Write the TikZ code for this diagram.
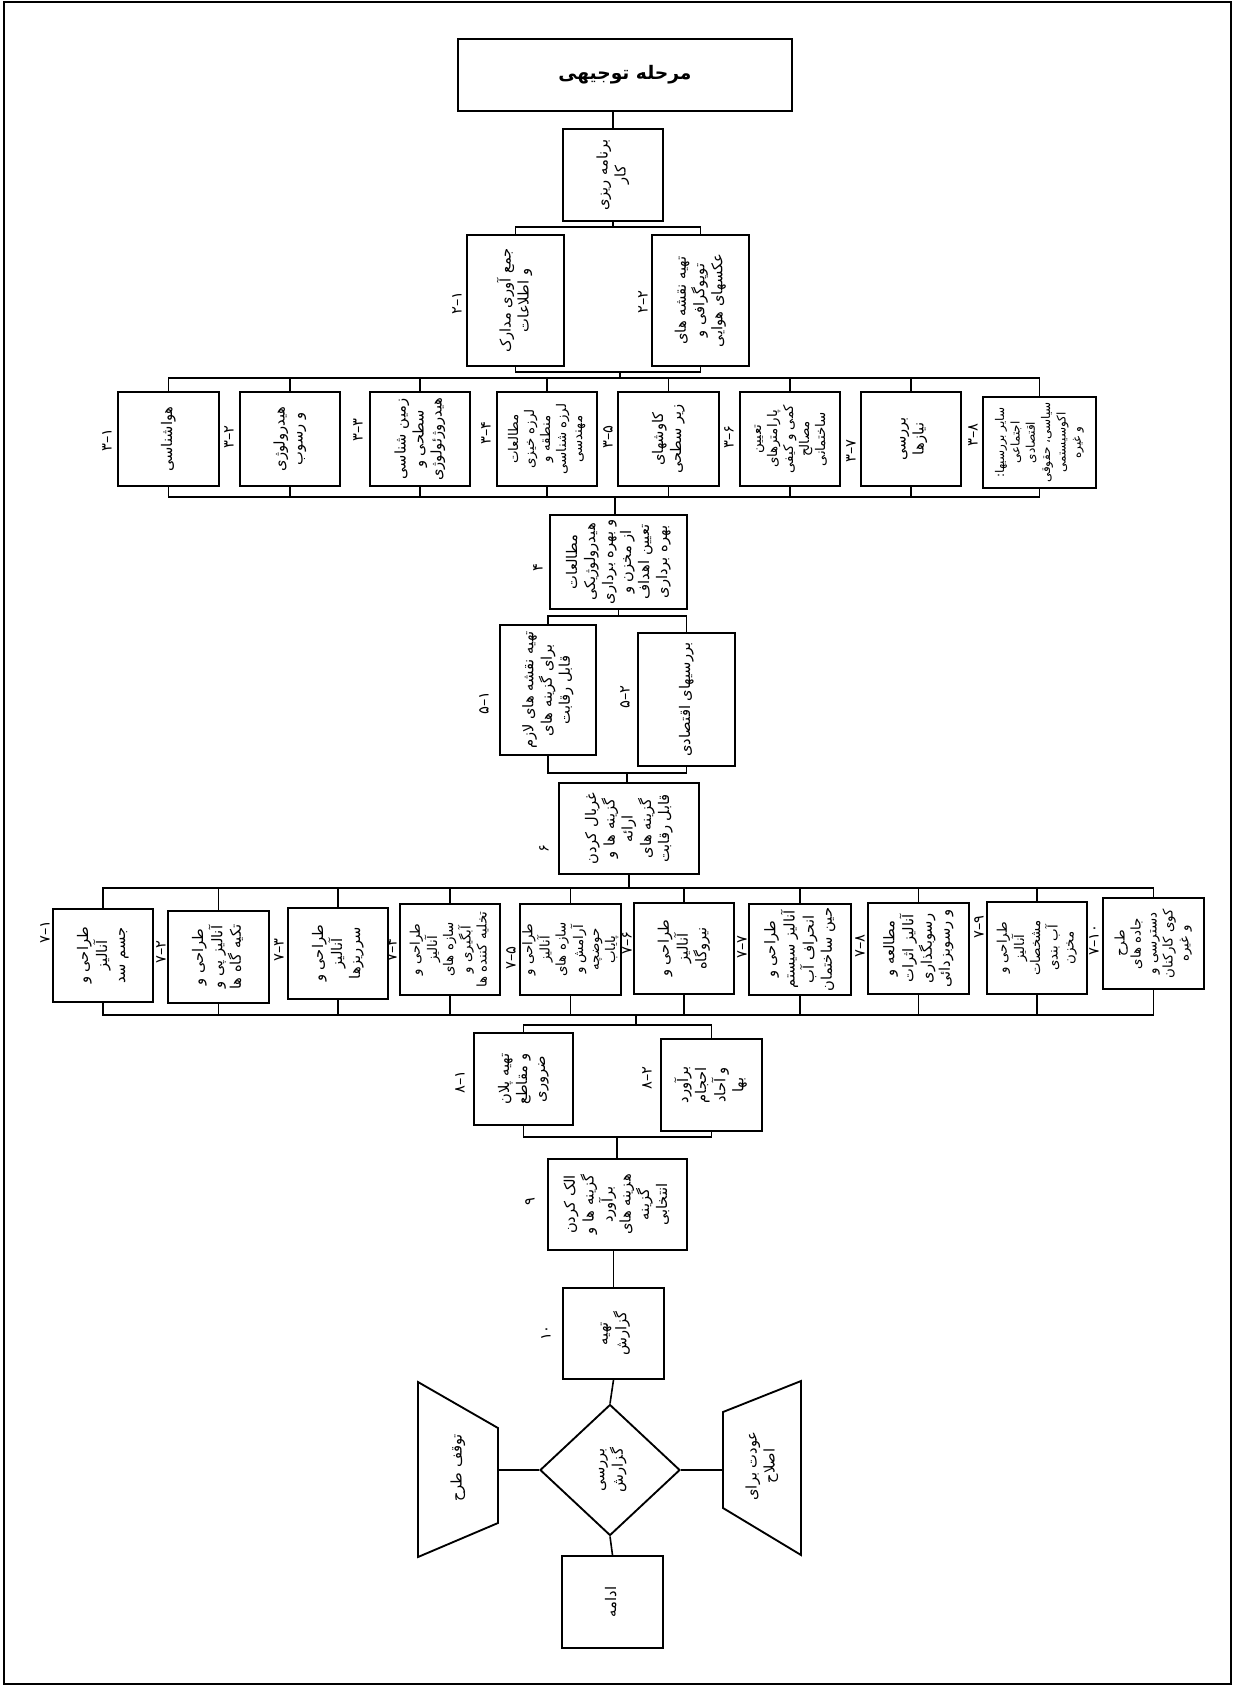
\documentclass[tikz,border=0pt]{standalone}
\usepackage{graphicx}
\usepackage{fontspec}
\newfontfamily\persianfont[Script=Arabic]{DejaVu Sans}
\TeXXeTstate=1
\usetikzlibrary{shapes.geometric}

\newcommand{\vtext}[1]{\rotatebox{90}{\begin{tabular}{@{}c@{}}#1\end{tabular}}}
\newcommand{\vnum}[1]{\rotatebox{90}{#1}}

\tikzset{
  box/.style={draw, line width=1.4pt, inner sep=0pt, font=\persianfont\fontsize{11}{13.5}\selectfont},
  small/.style={font=\persianfont\fontsize{10}{12}\selectfont},
  tiny/.style={font=\persianfont\fontsize{9}{11.5}\selectfont},
  txt/.style={inner sep=0pt, font=\persianfont\fontsize{11}{13.5}\selectfont},
  sz/.style 2 args={minimum width=#1*0.75pt, minimum height=#2*0.75pt},
  num/.style={inner sep=0pt, font=\persianfont\fontsize{11}{13}\selectfont},
  conn/.style={line width=1.2pt},
}

\begin{document}
\begin{tikzpicture}[x=0.75pt,y=0.75pt,yscale=-1,xscale=1]
\useasboundingbox (0,0) rectangle (1234,1686);
%Shape: Frame
\draw [line width=1.5pt] (4,2) rectangle (1231,1684);

%Shape: Rectangle (title)
\node [box, sz={334}{72}, font=\persianfont\bfseries\fontsize{14}{16}\selectfont] (mrhl) at (625,75) {\beginR مرحله توجیهی\endR};
%Shape: Rectangle (1)
\node [box, sz={100}{92}] (b1) at (613,175) {\vtext{\beginR برنامه ریزی\endR\\\beginR کار\endR}};

%Shape: Rectangle (2)
\node [box, sz={97}{131}] (b21) at (515.5,300.5) {\vtext{\beginR جمع آوری مدارک\endR\\\beginR و اطلاعات\endR}};
\node [box, sz={97}{131}] (b22) at (700.5,300.5) {\vtext{\beginR تهیه نقشه های\endR\\\beginR توپوگرافی و\endR\\\beginR عکسهای هوایی\endR}};
% Text Node
\node [num] (n21) at (457,303) {\vnum{۱–۲}};
\node [num] (n22) at (643,302) {\vnum{۲–۲}};

%Shape: Rectangle (3)
\node [box, sz={101}{94}] (b31) at (168.5,439) {\vtext{\beginR هواشناسی\endR}};
\node [box, sz={100}{94}] (b32) at (290,439) {\vtext{\beginR هیدرولوژی\endR\\\beginR و رسوب\endR}};
\node [box, sz={100}{94}] (b33) at (420,439) {\vtext{\beginR زمین شناسی\endR\\\beginR سطحی و\endR\\\beginR هیدروژئولوژی\endR}};
\node [box, small, sz={100}{94}] (b34) at (547,439) {\vtext{\beginR مطالعات\endR\\\beginR لرزه خیزی\endR\\\beginR منطقه و\endR\\\beginR لرزه شناسی\endR\\\beginR مهندسی\endR}};
\node [box, sz={101}{94}] (b35) at (668.5,439) {\vtext{\beginR کاوشهای\endR\\\beginR زیر سطحی\endR}};
\node [box, small, sz={100}{94}] (b36) at (790,439) {\vtext{\beginR تعیین\endR\\\beginR پارامترهای\endR\\\beginR کمی و کیفی\endR\\\beginR مصالح\endR\\\beginR ساختمانی\endR}};
\node [box, sz={100}{94}] (b37) at (911,439) {\vtext{\beginR بررسی\endR\\\beginR نیازها\endR}};
\node [box, tiny, sz={113}{91}] (b38) at (1039.5,442.5) {\vtext{\beginR سایر بررسیها:\endR\\\beginR اجتماعی\endR\\\beginR اقتصادی\endR\\\beginR سیاسی، حقوقی\endR\\\beginR اکوسیستمی\endR\\\beginR و غیره\endR}};
% Text Node
\node [num] (n31) at (107,440) {\vnum{۱–۳}};
\node [num] (n32) at (229,437) {\vnum{۲–۳}};
\node [num] (n33) at (358,430) {\vnum{۳–۳}};
\node [num] (n34) at (486,433) {\vnum{۴–۳}};
\node [num] (n35) at (608,437) {\vnum{۵–۳}};
\node [num] (n36) at (729,437) {\vnum{۶–۳}};
\node [num] (n37) at (851,451) {\vnum{۷–۳}};
\node [num] (n38) at (973,435) {\vnum{۸–۳}};

%Shape: Rectangle (4)
\node [box, sz={137}{94}] (b4) at (618.5,562) {\vtext{\beginR مطالعات\endR\\\beginR هیدرولوژیکی\endR\\\beginR و بهره برداری\endR\\\beginR از مخزن و\endR\\\beginR تعیین اهداف\endR\\\beginR بهره برداری\endR}};
\node [num] (n4) at (538,568) {\vnum{۴}};

%Shape: Rectangle (5)
\node [box, sz={96}{130}] (b51) at (548,690) {\vtext{\beginR تهیه نقشه های لازم\endR\\\beginR برای گزینه های\endR\\\beginR قابل رقابت\endR}};
\node [box, sz={97}{133}] (b52) at (686.5,699.5) {\vtext{\beginR بررسیهای اقتصادی\endR}};
\node [num] (n51) at (484,703) {\vnum{۱–۵}};
\node [num] (n52) at (625,697) {\vnum{۲–۵}};

%Shape: Rectangle (6)
\node [box, sz={140}{91}] (b6) at (629,828.5) {\vtext{\beginR غربال کردن\endR\\\beginR گزینه ها و\endR\\\beginR ارائه\endR\\\beginR گزینه های\endR\\\beginR قابل رقابت\endR}};
\node [num] (n6) at (544,849) {\vnum{۶}};

%Shape: Rectangle (7)
\node [box, sz={100}{93}] (b71) at (103,955.5) {\vtext{\beginR طراحی و\endR\\\beginR آنالیز\endR\\\beginR جسم سد\endR}};
\node [box, sz={101}{92}] (b72) at (218.5,957) {\vtext{\beginR طراحی و\endR\\\beginR آنالیز پی و\endR\\\beginR تکیه گاه ها\endR}};
\node [box, sz={100}{91}] (b73) at (338,953.5) {\vtext{\beginR طراحی و\endR\\\beginR آنالیز\endR\\\beginR سرریزها\endR}};
\node [box, small, sz={100}{91}] (b74) at (450,949.5) {\vtext{\beginR طراحی و\endR\\\beginR آنالیز\endR\\\beginR سازه های\endR\\\beginR آبگیری و\endR\\\beginR تخلیه کننده ها\endR}};
\node [box, small, sz={101}{91}] (b75) at (570.5,949.5) {\vtext{\beginR طراحی و\endR\\\beginR آنالیز\endR\\\beginR سازه های\endR\\\beginR آرامش و\endR\\\beginR حوضچه\endR\\\beginR پایاب\endR}};
\node [box, sz={100}{91}] (b76) at (684,948.5) {\vtext{\beginR طراحی و\endR\\\beginR آنالیز\endR\\\beginR نیروگاه\endR}};
\node [box, sz={102}{91}] (b77) at (800,949.5) {\vtext{\beginR طراحی و\endR\\\beginR آنالیز سیستم\endR\\\beginR انحراف آب\endR\\\beginR حین ساختمان\endR}};
\node [box, sz={101}{91}] (b78) at (918.5,948.5) {\vtext{\beginR مطالعه و\endR\\\beginR آنالیز اثرات\endR\\\beginR رسوبگذاری\endR\\\beginR و رسوبزدائی\endR}};
\node [box, small, sz={100}{92}] (b79) at (1037,948) {\vtext{\beginR طراحی و\endR\\\beginR آنالیز\endR\\\beginR مشخصات\endR\\\beginR آب بندی\endR\\\beginR مخزن\endR}};
\node [box, small, sz={101}{91}] (b710) at (1153.5,943.5) {\vtext{\beginR طرح\endR\\\beginR جاده های\endR\\\beginR دسترسی و\endR\\\beginR کوی کارکنان\endR\\\beginR و غیره\endR}};
% Text Node
\node [num] (n71) at (45,932) {\vnum{۱–۷}};
\node [num] (n72) at (161,952) {\vnum{۲–۷}};
\node [num] (n73) at (279,950) {\vnum{۳–۷}};
\node [num] (n74) at (392,950) {\vnum{۴–۷}};
\node [num] (n75) at (511,958) {\vnum{۵–۷}};
\node [num] (n76) at (627,943) {\vnum{۶–۷}};
\node [num] (n77) at (742,947) {\vnum{۷–۷}};
\node [num] (n78) at (860,946) {\vnum{۸–۷}};
\node [num] (n79) at (979,927) {\vnum{۹–۷}};
\node [num] (n710) at (1094,940) {\vnum{۱۰–۷}};

%Shape: Rectangle (8)
\node [box, sz={99}{92}] (b81) at (523.5,1079) {\vtext{\beginR تهیه پلان\endR\\\beginR و مقاطع\endR\\\beginR ضروری\endR}};
\node [box, sz={101}{92}] (b82) at (711.5,1085) {\vtext{\beginR برآورد\endR\\\beginR احجام\endR\\\beginR و آحاد\endR\\\beginR بها\endR}};
\node [num] (n81) at (460,1082) {\vnum{۱–۸}};
\node [num] (n82) at (647,1078) {\vnum{۲–۸}};

%Shape: Rectangle (9, 10)
\node [box, sz={139}{91}] (b9) at (617.5,1204.5) {\vtext{\beginR الک کردن\endR\\\beginR گزینه ها و\endR\\\beginR برآورد\endR\\\beginR هزینه های\endR\\\beginR گزینه\endR\\\beginR انتخابی\endR}};
\node [num] (n9) at (530,1202) {\vnum{۹}};
\node [box, sz={101}{91}] (b10) at (613.5,1333.5) {\vtext{\beginR تهیه\endR\\\beginR گزارش\endR}};
\node [num] (n10) at (546,1333) {\vnum{۱۰}};

%Shape: Diamond
\node [box, diamond, sz={140}{131}] (rev) at (610,1470) {\vtext{\beginR بررسی\endR\\\beginR گزارش\endR}};
%Shape: Trapezoid (stop)
\coordinate (st1) at (418,1382);
\coordinate (st2) at (498,1428);
\coordinate (st3) at (498,1523);
\coordinate (st4) at (418,1557);
\draw [line width=1.4pt] (st1) -- (st2) -- (st3) -- (st4) -- cycle;
\node [txt] (stopt) at (458,1468) {\vtext{\beginR توقف طرح\endR}};
%Shape: Trapezoid (back)
\coordinate (bk1) at (723,1412);
\coordinate (bk2) at (801,1381);
\coordinate (bk3) at (801,1555);
\coordinate (bk4) at (723,1508);
\draw [line width=1.4pt] (bk1) -- (bk2) -- (bk3) -- (bk4) -- cycle;
\node [txt] (backt) at (762,1466) {\vtext{\beginR عودت برای\endR\\\beginR اصلاح\endR}};
%Shape: Rectangle (continue)
\node [box, sz={101}{92}] (cont) at (612.5,1602) {\vtext{\beginR ادامه\endR}};

%Straight Lines
\draw [conn] (b1.north |- mrhl.south) -- (b1.north);
\coordinate (bus2t) at (613,227);
\draw [conn] (b1.south) -- (bus2t);
\draw [conn] (b21.north) -- (b21.north |- bus2t) -- (b22.north |- bus2t) -- (b22.north);
\coordinate (bus2b) at (620,372);
\coordinate (bus3t) at (620,378);
\draw [conn] (b21.south) -- (b21.south |- bus2b) -- (b22.south |- bus2b) -- (b22.south);
\draw [conn] (bus2b) -- (bus3t);
\draw [conn] (b31.north) -- (b31.north |- bus3t) -- (b38.north |- bus3t) -- (b38.north);
\foreach \n in {b32,b33,b34,b35,b36,b37}
  \draw [conn] (\n.north) -- (\n.north |- bus3t);
\coordinate (bus3b) at (615,497);
\draw [conn] (b31.south) -- (b31.south |- bus3b) -- (b38.south |- bus3b) -- (b38.south);
\foreach \n in {b32,b33,b34,b35,b36,b37}
  \draw [conn] (\n.south) -- (\n.south |- bus3b);
\draw [conn] (bus3b) -- (bus3b |- b4.north);

\coordinate (bus5t) at (618.5,616);
\draw [conn] (b4.south) -- (bus5t);
\draw [conn] (b51.north) -- (b51.north |- bus5t) -- (b52.north |- bus5t) -- (b52.north);
\coordinate (bus5b) at (627,773);
\draw [conn] (b51.south) -- (b51.south |- bus5b) -- (b52.south |- bus5b) -- (b52.south);
\draw [conn] (bus5b) -- (bus5b |- b6.north);

\coordinate (bus7t) at (629,888);
\draw [conn] (b6.south) -- (bus7t);
\draw [conn] (b71.north) -- (b71.north |- bus7t) -- (b710.north |- bus7t) -- (b710.north);
\foreach \n in {b72,b73,b74,b75,b76,b77,b78,b79}
  \draw [conn] (\n.north) -- (\n.north |- bus7t);
\coordinate (bus7b) at (636,1015);
\draw [conn] (b71.south) -- (b71.south |- bus7b) -- (b710.south |- bus7b) -- (b710.south);
\foreach \n in {b72,b73,b74,b75,b76,b77,b78,b79}
  \draw [conn] (\n.south) -- (\n.south |- bus7b);

\coordinate (bus8t) at (636,1025);
\draw [conn] (bus7b) -- (bus8t);
\draw [conn] (b81.north) -- (b81.north |- bus8t) -- (b82.north |- bus8t) -- (b82.north);
\coordinate (bus8b) at (617,1137);
\draw [conn] (b81.south) -- (b81.south |- bus8b) -- (b82.south |- bus8b) -- (b82.south);
\draw [conn] (bus8b) -- (bus8b |- b9.north);
\draw [conn] (b10.north |- b9.south) -- (b10.north);
\draw [conn] (b10.south) -- (rev.north);
\draw [conn] (rev.west) -- (rev.west -| st2);
\draw [conn] (rev.east) -- (rev.east -| bk1);
\draw [conn] (rev.south) -- (cont.north);

\end{tikzpicture}
\end{document}
